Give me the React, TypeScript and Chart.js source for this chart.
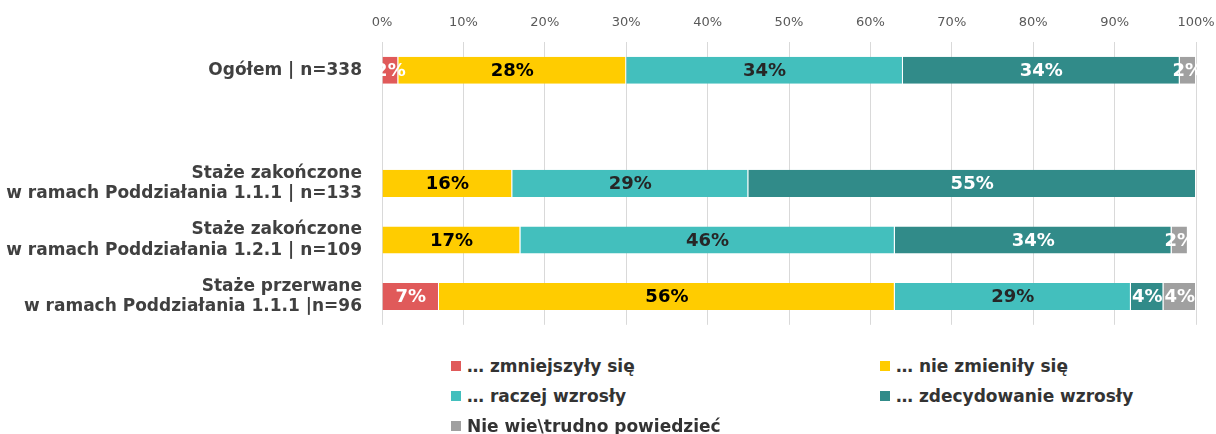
import React, { useEffect, useRef } from "react";
import { Chart, registerables } from "chart.js";

Chart.register(...registerables);

const categories: (string | string[])[] = [
  "Ogółem | n=338",
  "",
  ["Staże zakończone", "w ramach Poddziałania 1.1.1 | n=133"],
  ["Staże zakończone", "w ramach Poddziałania 1.2.1 | n=109"],
  ["Staże przerwane", "w ramach Poddziałania 1.1.1 |n=96"],
];

const seriesNames = [
  "… zmniejszyły się",
  "… nie zmieniły się",
  "… raczej wzrosły",
  "… zdecydowanie wzrosły",
  "Nie wie\\trudno powiedzieć",
];

const decreased = [2, null, 0, 0, 7];
const unchanged = [28, null, 16, 17, 56];
const ratherIncreased = [34, null, 29, 46, 29];
const definitelyIncreased = [34, null, 55, 34, 4];
const dontKnow = [2, null, 0, 2, 4];

const xTicks = [0, 10, 20, 30, 40, 50, 60, 70, 80, 90, 100];

const colors = ["#E05A5A", "#FFCC00", "#43BFBD", "#318B89", "#A0A0A0"];
const labelColors = ["#FFFFFF", "#000000", "#262626", "#FFFFFF", "#FFFFFF"];

const FONT = "'DejaVu Sans', sans-serif";

const valueLabels = {
  id: "valueLabels",
  afterDatasetsDraw(chart: any) {
    const ctx = chart.ctx;
    ctx.save();
    ctx.font = `bold 18px ${FONT}`;
    ctx.textAlign = "center";
    ctx.textBaseline = "middle";
    chart.data.datasets.forEach((ds: any, di: number) => {
      const meta = chart.getDatasetMeta(di);
      meta.data.forEach((el: any, i: number) => {
        const v = ds.data[i];
        if (v == null || v === 0) return;
        const p = el.getProps(["x", "y", "base"], true);
        ctx.fillStyle = labelColors[di];
        ctx.fillText(v + "%", (p.x + p.base) / 2, p.y + 1);
      });
    });
    ctx.restore();
  },
};

export default function App() {
  const ref = useRef<HTMLCanvasElement>(null);
  useEffect(() => {
    const all = [decreased, unchanged, ratherIncreased, definitelyIncreased, dontKnow];
    const chart = new Chart(ref.current!, {
      type: "bar",
      data: {
        labels: categories,
        datasets: all.map((d, i) => ({
          label: seriesNames[i],
          data: d,
          backgroundColor: colors[i],
          borderColor: "#FFFFFF",
          borderWidth: { top: 0, bottom: 0, left: 0, right: 1 },
          borderSkipped: false,
          categoryPercentage: 1,
          barPercentage: 0.48,
        })),
      },
      options: {
        indexAxis: "y",
        responsive: false,
        animation: false,
        layout: { padding: { top: 0, right: 0, bottom: 0, left: 0 } },
        plugins: { legend: { display: false }, tooltip: { enabled: false } },
        scales: {
          x: {
            position: "top",
            stacked: true,
            min: 0,
            max: 100,
            afterBuildTicks: (s: any) => {
              s.ticks = xTicks.map((v) => ({ value: v }));
            },
            afterFit: (s: any) => {
              s.height = 42;
              s.paddingRight = 20;
              s.paddingLeft = 0;
            },
            ticks: {
              callback: (v: any) => v + "%",
              color: "#595959",
              font: { family: FONT, size: 13 },
              padding: 12,
              maxRotation: 0,
            },
            grid: { color: "#D9D9D9", drawTicks: false },
            border: { display: false },
          },
          y: {
            stacked: true,
            afterFit: (s: any) => {
              s.width = 382;
            },
            ticks: {
              color: "#404040",
              font: { family: FONT, size: 17, weight: "bold", lineHeight: 1.2 },
              padding: 12,
            },
            grid: { display: false },
            border: { display: false },
          },
        },
      },
      plugins: [valueLabels],
    });
    return () => chart.destroy();
  }, []);

  const legendItem = (i: number, left: number, top: number) => (
    <div
      key={i}
      style={{
        position: "absolute",
        left,
        top,
        display: "flex",
        alignItems: "center",
        fontFamily: FONT,
        fontWeight: "bold",
        fontSize: 17,
        color: "#333333",
        whiteSpace: "nowrap",
        lineHeight: "20px",
      }}
    >
      <span
        style={{
          display: "inline-block",
          width: 10,
          height: 10,
          background: colors[i],
          marginRight: 6,
        }}
      />
      {seriesNames[i]}
    </div>
  );

  return (
    <div style={{ position: "fixed", left: 0, top: 0, width: 1216, height: 434, background: "#fff" }}>
      <canvas ref={ref} width={1216} height={347} style={{ display: "block" }} />
      {legendItem(0, 451, 356)}
      {legendItem(1, 880, 356)}
      {legendItem(2, 451, 386)}
      {legendItem(3, 880, 386)}
      {legendItem(4, 451, 416)}
    </div>
  );
}
